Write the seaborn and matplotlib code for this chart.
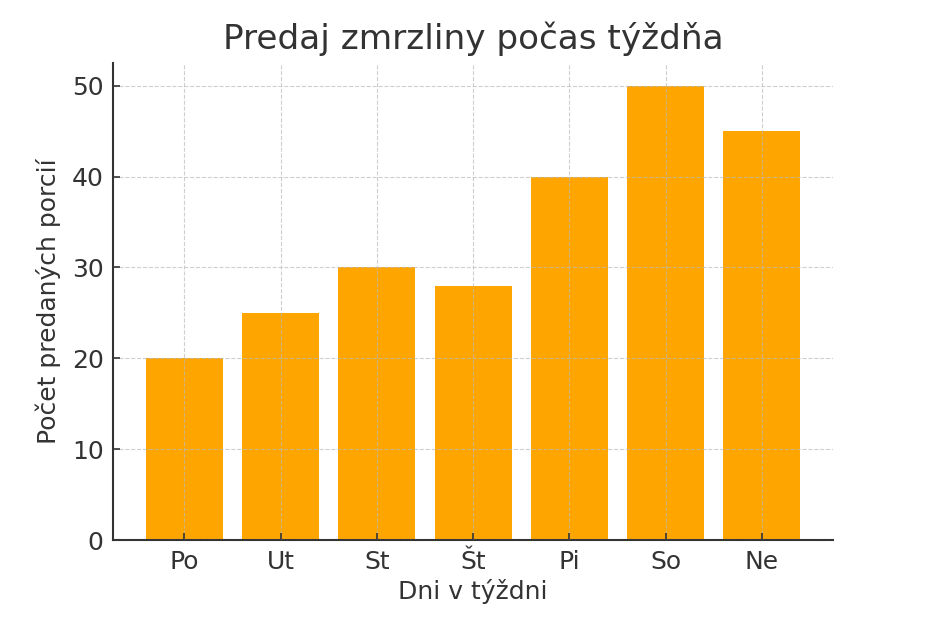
import matplotlib
matplotlib.use("Agg")
import matplotlib.pyplot as plt
import seaborn as sns
import pandas as pd

# Data
days = ["Po", "Ut", "St", "Št", "Pi", "So", "Ne"]
portions = [20, 25, 30, 28, 40, 50, 45]

df = pd.DataFrame({"day": days, "portions": portions})

sns.set_style("white")
plt.rcParams["font.family"] = ["DejaVu Sans"]
plt.rcParams["text.color"] = "#333333"
plt.rcParams["axes.labelcolor"] = "#333333"
plt.rcParams["xtick.color"] = "#333333"
plt.rcParams["ytick.color"] = "#333333"

fig = plt.figure(figsize=(9.52, 6.23), dpi=100)
ax = fig.add_axes([0.119, 0.133, 0.756, 0.766])

sns.barplot(data=df, x="day", y="portions", color="#FFA500", saturation=1,
            width=0.8, linewidth=0, ax=ax)

ax.set_xlim(-0.74, 6.74)
ax.set_ylim(0, 52.5)
ax.set_yticks([0, 10, 20, 30, 40, 50])

ax.set_axisbelow(False)
ax.grid(True, linestyle="--", color="#bbbbbb", linewidth=0.8, alpha=0.7)

for s in ["top", "right"]:
    ax.spines[s].set_visible(False)
for s in ["left", "bottom"]:
    ax.spines[s].set_color("#333333")
    ax.spines[s].set_linewidth(1.5)

ax.tick_params(axis="both", labelsize=18, length=5, width=1.2, direction="in",
               bottom=True, left=True, pad=7)

ax.set_title("Predaj zmrzliny počas týždňa", fontsize=24.7, pad=10)
ax.set_xlabel("Dni v týždni", fontsize=18, labelpad=4)
ax.set_ylabel("Počet predaných porcií", fontsize=18, labelpad=8)

fig.savefig("out.png", dpi=100)
